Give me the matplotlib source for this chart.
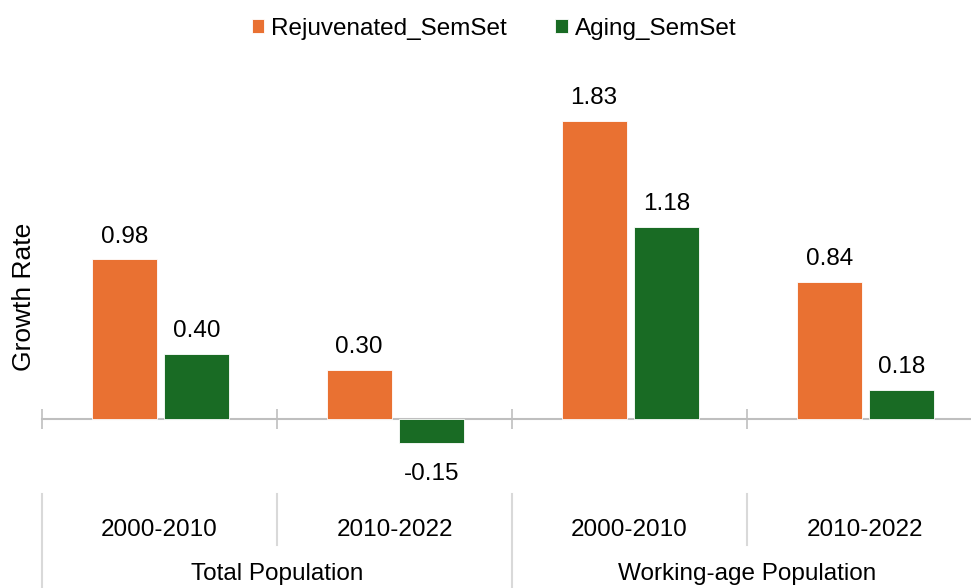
import matplotlib.pyplot as plt
import matplotlib.transforms as mtransforms
import numpy as np

plt.rcParams['font.family'] = ['Liberation Sans', 'DejaVu Sans']

# chart data
periods = ['2000-2010', '2010-2022', '2000-2010', '2010-2022']
groups = ['Total Population', 'Working-age Population']
series_names = ['Rejuvenated_SemSet', 'Aging_SemSet']
rejuvenated = [0.98, 0.30, 1.83, 0.84]
aging = [0.40, -0.15, 1.18, 0.18]

colors = ['#E97132', '#196B24']
grey = '#BFBFBF'
sep_grey = '#D9D9D9'
fs = 17.5

W, H = 971, 588
fig = plt.figure(figsize=(W / 100, H / 100), dpi=100)

# axes placed in pixel terms (category width ~235 px, last one runs off the edge)
ymin, ymax = -0.25, 2.2
px_per_unit = 163.0
zero_y = 419
left, right = 42, 42 + 4 * 235
top = zero_y - ymax * px_per_unit
bottom = zero_y - ymin * px_per_unit
ax = fig.add_axes([left / W, 1 - bottom / H, (right - left) / W, (bottom - top) / H])

x = np.arange(len(periods)) + 0.5
bw = 0.277
gap = 0.03
offs = [-(bw + gap) / 2 + 0.003, (bw + gap) / 2 + 0.003]
for vals, off, c, name in zip([rejuvenated, aging], offs, colors, series_names):
    bars = ax.bar(x + off, vals, width=bw, color=c, edgecolor='white',
                  linewidth=0.6, label=name, zorder=2)
    for b, v in zip(bars, vals):
        if v >= 0:
            ax.annotate('%.2f' % v, (b.get_x() + b.get_width() / 2, v),
                        xytext=(0, 12), textcoords='offset points',
                        ha='center', va='baseline', fontsize=fs)
        else:
            ax.annotate('%.2f' % v, (b.get_x() + b.get_width() / 2, v),
                        xytext=(0, -14), textcoords='offset points',
                        ha='center', va='top', fontsize=fs)

ax.set_xlim(0, 4)
ax.set_ylim(ymin, ymax)
for s in ['left', 'top', 'right']:
    ax.spines[s].set_visible(False)
ax.spines['bottom'].set_position(('data', 0))
ax.spines['bottom'].set_color(grey)
ax.spines['bottom'].set_linewidth(1.5)
ax.spines['bottom'].set_zorder(1)
ax.set_xticks(np.arange(5))
ax.tick_params(axis='x', direction='inout', length=14, width=1.2,
               color=grey, labelbottom=False)
ax.set_yticks([])

# category labels below the axis
tr = mtransforms.blended_transform_factory(ax.transData, fig.transFigure)
for xi, p in zip(x, periods):
    fig.text(0, 0, p, transform=tr, fontsize=fs, ha='center', va='center',
             position=(xi, 1 - 530 / H))
for gi, g in enumerate(groups):
    fig.text(0, 0, g, transform=tr, fontsize=fs, ha='center', va='center',
             position=(2 * gi + 1, 1 - 574 / H))
for xb in range(5):
    y_end = 588 if xb % 2 == 0 else 545
    ax.plot([xb, xb], [1 - 494 / H, 1 - y_end / H], transform=tr,
            color=sep_grey, lw=1.5, clip_on=False)

fig.text(24 / W, 1 - 297 / H, 'Growth Rate', rotation=90, fontsize=19,
         ha='center', va='center')

fig.legend(loc='center', bbox_to_anchor=(494 / W, 1 - 29 / H), ncol=2,
           frameon=False, fontsize=fs, handlelength=0.5, handleheight=0.5,
           handletextpad=0.3, columnspacing=2.0)

fig.savefig('out.png', dpi=100)
